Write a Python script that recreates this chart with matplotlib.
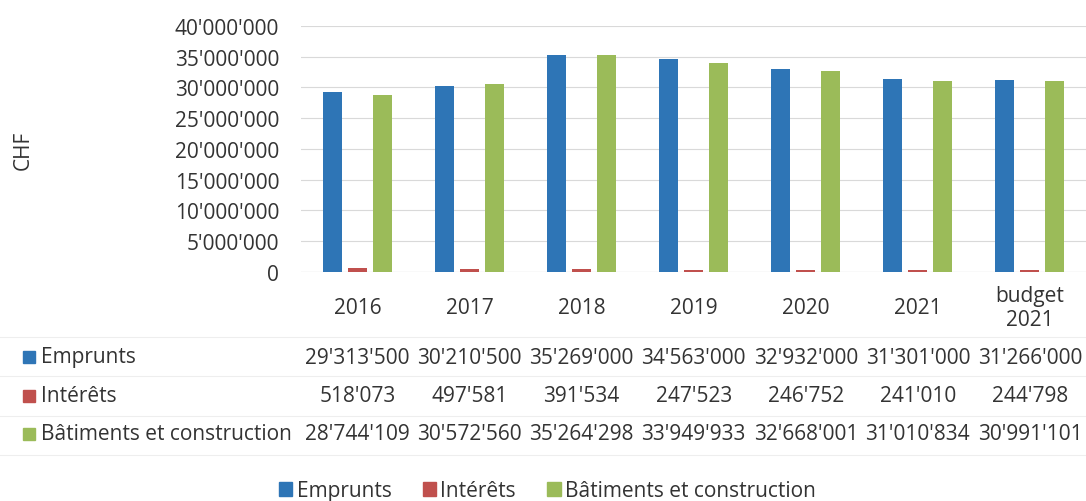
import numpy as np
import matplotlib.pyplot as plt
from matplotlib.ticker import FuncFormatter, MultipleLocator
from matplotlib.patches import Rectangle, Patch
from matplotlib import transforms

# données
categories = ['2016', '2017', '2018', '2019', '2020', '2021', 'budget\n2021']
emprunts = [29313500, 30210500, 35269000, 34563000, 32932000, 31301000, 31266000]
interets = [518073, 497581, 391534, 247523, 246752, 241010, 244798]
batiments = [28744109, 30572560, 35264298, 33949933, 32668001, 31010834, 30991101]
series_names = ['Emprunts', 'Intérêts', 'Bâtiments et construction']
colors = ['#2E75B6', '#C0504D', '#9BBB59']
text_col = '#333333'


def swiss(v, pos=None):
    return f"{v:,.0f}".replace(",", "'")


plt.rcParams['font.family'] = ['Open Sans', 'DejaVu Sans']
fig = plt.figure(figsize=(10.86, 5.02), dpi=100)
ax = fig.add_axes([0.2775, 0.457, 0.7225, 0.489])

x = np.arange(len(categories))
series = [emprunts, interets, batiments]
for i, (vals, c) in enumerate(zip(series, colors)):
    ax.bar(x + (i - 1) * 0.223, vals, width=0.17, color=c, zorder=3)

ax.set_xlim(-0.5, len(categories) - 0.5)
ax.set_ylim(0, 40000000)
ax.yaxis.set_major_locator(MultipleLocator(5000000))
ax.yaxis.set_major_formatter(FuncFormatter(swiss))
ax.grid(axis='y', color='#d9d9d9', lw=0.8, zorder=0)
for s in ax.spines.values():
    s.set_visible(False)
ax.axhline(0, color='#d0d0d0', lw=0.8, zorder=2)

ax.set_xticks(x, categories)
ax.tick_params(axis='y', length=0, labelsize=15, colors=text_col, pad=16)
ax.tick_params(axis='x', length=0, labelsize=15, colors=text_col, pad=26)
for lbl in ax.get_xticklabels():
    lbl.set_verticalalignment('center')
    lbl.set_linespacing(1.2)

fig.text(0.021, 0.70, 'CHF', rotation=90, fontsize=15, color=text_col,
         ha='center', va='center')

# table de données sous le graphique
trans = transforms.blended_transform_factory(ax.transData, fig.transFigure)
row_y = [1 - 358 / 502, 1 - 397 / 502, 1 - 435 / 502]
for name, vals, c, yy in zip(series_names, series, colors, row_y):
    fig.patches.append(Rectangle((23 / 1086, yy - 6 / 502), 12 / 1086, 12 / 502,
                                 transform=fig.transFigure, color=c))
    fig.text(41 / 1086, yy, name, fontsize=15, color=text_col, va='center', ha='left')
    for xi, v in zip(x, vals):
        fig.text(xi, yy, swiss(v), transform=trans, fontsize=15, color=text_col,
                 ha='center', va='center')

for yy in [1 - 338 / 502, 1 - 377 / 502, 1 - 417 / 502, 1 - 456 / 502]:
    fig.add_artist(plt.Line2D([0.0, 1.0], [yy, yy], transform=fig.transFigure,
                              color='#eeeeee', lw=0.8))

handles = [Patch(color=c, label=n) for c, n in zip(colors, series_names)]
fig.legend(handles=handles, ncol=3, loc='center', bbox_to_anchor=(0.504, 0.02),
           frameon=False, fontsize=15, handlelength=0.65, handleheight=0.65,
           handletextpad=0.2, columnspacing=1.5, labelcolor=text_col,
           borderpad=0, borderaxespad=0)

fig.savefig('out.png', dpi=100)
